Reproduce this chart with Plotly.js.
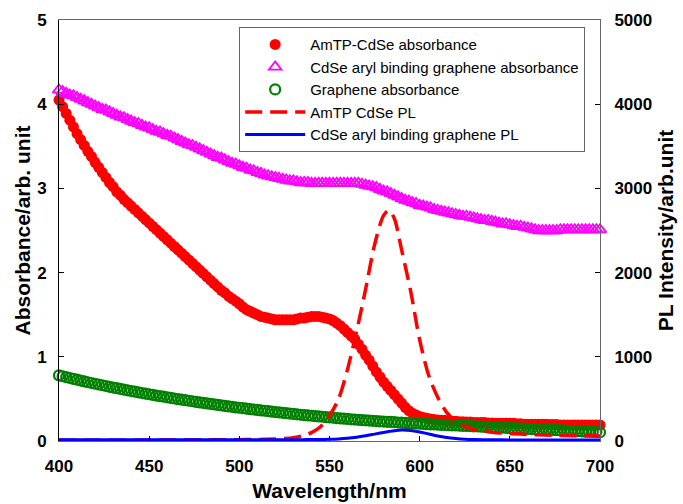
<!DOCTYPE html>
<html>
<head>
<meta charset="utf-8">
<script src="https://cdn.plot.ly/plotly-3.0.1.min.js"></script>
<style>
  html, body { margin: 0; padding: 0; background: #fff; }
  #chart { width: 683px; height: 504px; }
</style>
</head>
<body>
<div id="chart"></div>
<script>
// Absorbance spectra, sampled every 2 nm
const wavelength = [
  400,402,404,406,408,410,412,414,416,418,420,422,424,426,428,430,432,434,436,438,
  440,442,444,446,448,450,452,454,456,458,460,462,464,466,468,470,472,474,476,478,
  480,482,484,486,488,490,492,494,496,498,500,502,504,506,508,510,512,514,516,518,
  520,522,524,526,528,530,532,534,536,538,540,542,544,546,548,550,552,554,556,558,
  560,562,564,566,568,570,572,574,576,578,580,582,584,586,588,590,592,594,596,598,
  600,602,604,606,608,610,612,614,616,618,620,622,624,626,628,630,632,634,636,638,
  640,642,644,646,648,650,652,654,656,658,660,662,664,666,668,670,672,674,676,678,
  680,682,684,686,688,690,692,694,696,698,700
];

const amtpAbs = [
  4.05,3.97,3.89,3.81,3.73,3.65,3.58,3.51,3.44,3.38,3.31,3.25,3.19,3.13,3.07,3.02,2.96,2.92,2.87,2.83,
  2.79,2.75,2.71,2.67,2.63,2.59,2.55,2.51,2.47,2.43,2.39,2.35,2.31,2.27,2.23,2.19,2.15,2.11,2.07,2.03,
  1.99,1.95,1.91,1.87,1.83,1.79,1.76,1.72,1.69,1.66,1.63,1.59,1.56,1.54,1.52,1.50,1.48,1.47,1.46,1.45,
  1.44,1.44,1.44,1.44,1.44,1.44,1.45,1.46,1.46,1.47,1.48,1.48,1.48,1.47,1.46,1.45,1.43,1.40,1.37,1.33,
  1.29,1.25,1.21,1.15,1.09,1.02,0.96,0.89,0.82,0.76,0.70,0.65,0.60,0.55,0.50,0.45,0.40,0.36,0.33,0.31,
  0.29,0.28,0.27,0.26,0.255,0.25,0.245,0.245,0.24,0.235,0.235,0.23,0.23,0.225,0.225,0.22,0.22,0.22,0.22,0.215,
  0.215,0.21,0.21,0.21,0.21,0.21,0.21,0.205,0.205,0.20,0.20,0.20,0.20,0.20,0.20,0.20,0.195,0.195,0.195,0.19,
  0.19,0.19,0.19,0.19,0.19,0.19,0.19,0.19,0.19,0.19,0.19
];

const cdseGrapheneAbs = [
  4.17,4.15,4.13,4.11,4.10,4.08,4.06,4.04,4.02,4.00,3.98,3.96,3.94,3.93,3.91,3.89,3.87,3.85,3.84,3.82,
  3.80,3.78,3.77,3.75,3.73,3.72,3.70,3.68,3.67,3.65,3.63,3.62,3.60,3.58,3.56,3.54,3.52,3.51,3.49,3.47,
  3.45,3.43,3.41,3.39,3.37,3.36,3.34,3.32,3.30,3.29,3.27,3.25,3.24,3.22,3.21,3.19,3.18,3.16,3.15,3.14,
  3.13,3.12,3.11,3.10,3.09,3.09,3.08,3.07,3.07,3.07,3.06,3.06,3.06,3.06,3.06,3.06,3.06,3.06,3.06,3.06,
  3.06,3.06,3.06,3.06,3.05,3.04,3.03,3.02,3.01,2.99,2.97,2.96,2.94,2.92,2.90,2.88,2.86,2.85,2.83,2.82,
  2.80,2.79,2.78,2.77,2.75,2.74,2.73,2.72,2.71,2.70,2.69,2.68,2.67,2.67,2.66,2.65,2.64,2.63,2.62,2.62,
  2.61,2.60,2.59,2.58,2.58,2.57,2.56,2.55,2.55,2.54,2.53,2.52,2.51,2.50,2.50,2.50,2.50,2.50,2.50,2.51,
  2.51,2.51,2.51,2.51,2.51,2.51,2.51,2.51,2.51,2.51,2.51
];

const grapheneAbs = [
  0.780,0.769,0.759,0.748,0.738,0.728,0.718,0.708,0.698,0.689,0.680,0.671,0.662,0.653,0.644,0.635,0.627,0.618,0.610,0.602,
  0.594,0.586,0.578,0.570,0.562,0.555,0.548,0.540,0.533,0.526,0.519,0.512,0.505,0.498,0.491,0.485,0.478,0.472,0.465,0.459,
  0.453,0.447,0.441,0.435,0.429,0.423,0.417,0.411,0.406,0.400,0.395,0.390,0.384,0.379,0.374,0.369,0.364,0.359,0.354,0.349,
  0.344,0.340,0.335,0.330,0.326,0.321,0.317,0.312,0.308,0.304,0.300,0.296,0.292,0.288,0.284,0.280,0.276,0.272,0.268,0.265,
  0.262,0.258,0.255,0.252,0.249,0.246,0.243,0.240,0.237,0.234,0.231,0.228,0.226,0.223,0.220,0.218,0.215,0.213,0.210,0.208,
  0.205,0.203,0.200,0.198,0.196,0.194,0.192,0.190,0.188,0.186,0.184,0.182,0.180,0.178,0.176,0.174,0.172,0.170,0.168,0.166,
  0.164,0.162,0.160,0.158,0.156,0.154,0.152,0.150,0.148,0.146,0.144,0.142,0.140,0.138,0.136,0.134,0.132,0.130,0.128,0.126,
  0.124,0.122,0.120,0.118,0.116,0.114,0.112,0.110,0.108,0.106,0.104
];

// Photoluminescence spectra
const plWavelength = [400,420,440,460,480,500,510,520,525,530,535,540,545,550,555,560,565,570,575,580,583,586,590,595,600,605,610,615,620,625,630,640,650,660,670,680,690,700];
const amtpPL = [10,10,10,12,14,16,18,25,30,40,60,100,170,300,500,850,1300,1800,2330,2680,2740,2640,2270,1780,1200,780,520,340,230,170,135,105,88,78,70,65,62,60];
const cdseGraphenePL = [15,15,14,14,14,14,14,15,15,16,16,17,18,20,24,32,45,62,82,102,113,123,131,126,108,84,60,42,30,22,18,15,13,13,12,12,12,12];

const xTicks = [400,450,500,550,600,650,700];
const absTicks = [0,1,2,3,4,5];
const plTicks = [0,1000,2000,3000,4000,5000];

const FONT = 'Liberation Sans, Arial, Helvetica, sans-serif';
const tickFont = {family: FONT, size: 17, color: '#000', weight: 'bold'};
const titleFont = {family: FONT, size: 21, color: '#000', weight: 'bold'};

const traces = [
  {
    x: wavelength, y: amtpAbs, name: 'AmTP-CdSe absorbance',
    type: 'scatter', mode: 'markers', cliponaxis: false,
    marker: {symbol: 'circle', size: 11, color: '#ff0000', line: {width: 0}}
  },
  {
    x: wavelength, y: cdseGrapheneAbs, name: 'CdSe aryl binding graphene absorbance',
    type: 'scatter', mode: 'markers', cliponaxis: false,
    marker: {symbol: 'triangle-up-open', size: 11, color: '#ff00ff', line: {width: 1.8}}
  },
  {
    x: wavelength, y: grapheneAbs, name: 'Graphene absorbance',
    type: 'scatter', mode: 'markers', cliponaxis: false,
    marker: {symbol: 'circle-open', size: 10, color: '#008000', line: {width: 2.2}}
  },
  {
    x: plWavelength, y: amtpPL, name: 'AmTP CdSe PL', yaxis: 'y2',
    type: 'scatter', mode: 'lines',
    line: {color: '#ff0000', width: 3.5, dash: '17px,8px', shape: 'spline', smoothing: 0.8}
  },
  {
    x: plWavelength, y: cdseGraphenePL, name: 'CdSe aryl binding graphene PL', yaxis: 'y2',
    type: 'scatter', mode: 'lines',
    line: {color: '#0000ff', width: 3, shape: 'spline', smoothing: 0.8}
  }
];

const layout = {
  width: 683, height: 504,
  margin: {l: 59, r: 83, t: 20, b: 63},
  paper_bgcolor: '#fff', plot_bgcolor: '#fff',
  showlegend: true,
  legend: {
    x: 0.333, y: 0.983, xanchor: 'left', yanchor: 'top',
    bgcolor: '#fff', bordercolor: '#666', borderwidth: 1,
    font: {family: FONT, size: 15, color: '#000'},
    itemwidth: 60
  },
  xaxis: {
    range: [400, 700], tickvals: xTicks, ticktext: xTicks.map(String),
    ticks: 'inside', ticklen: 5, tickcolor: '#000', tickwidth: 1,
    showline: true, linecolor: '#666', linewidth: 1, mirror: true,
    showgrid: false, zeroline: false,
    tickfont: tickFont, ticklabelstandoff: 10,
    title: {text: 'Wavelength/nm', font: titleFont, standoff: 7}
  },
  yaxis: {
    range: [0, 5], tickvals: absTicks, ticktext: absTicks.map(String),
    ticks: 'inside', ticklen: 5, tickcolor: '#000', tickwidth: 1,
    showline: true, linecolor: '#000', linewidth: 1,
    showgrid: false, zeroline: false,
    tickfont: tickFont, ticklabelstandoff: 8,
    title: {text: 'Absorbance/arb. unit', font: titleFont, standoff: 0}
  },
  yaxis2: {
    overlaying: 'y', side: 'right',
    range: [0, 5000], tickvals: plTicks, ticktext: plTicks.map(String),
    ticks: 'inside', ticklen: 5, tickcolor: '#000', tickwidth: 1,
    showline: true, linecolor: '#666', linewidth: 1,
    showgrid: false, zeroline: false,
    tickfont: tickFont, ticklabelstandoff: 10,
    title: {text: 'PL Intensity/arb.unit', font: titleFont, standoff: 7}
  }
};

Plotly.newPlot('chart', traces, layout, {displayModeBar: false, staticPlot: true});
</script>
</body>
</html>
